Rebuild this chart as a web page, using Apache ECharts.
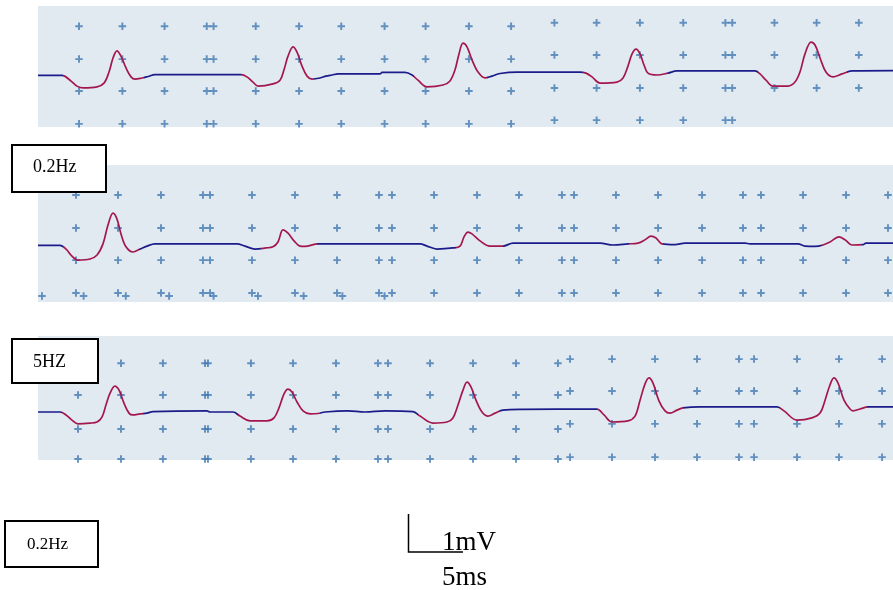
<!DOCTYPE html>
<html><head><meta charset="utf-8">
<script src="https://cdn.jsdelivr.net/npm/echarts@6/dist/echarts.min.js"></script>
<style>html,body{margin:0;padding:0;background:#fff}#c{width:893px;height:590px}</style>
</head><body><div id="c"></div>
<script>
// ---- waveform data: time (ms), voltage (mV) ----
const wave1T = [0,2.11,2.81,3.42,3.95,5.18,5.79,6.23,6.58,6.93,7.28,7.72,8.16,8.51,9.12,9.65,10.26,16.84,17.81,18.33,18.86,19.30,20.61,21.23,21.58,21.93,22.37,22.72,23.16,23.60,24.04,24.74,25.26,25.79,26.32,30.0,30.18,32.19,32.81,33.33,34.12,35.53,36.14,36.58,36.93,37.28,37.63,38.07,38.60,39.21,39.82,40.53,42.02,47.54,48.07,48.60,49.30,50.79,51.32,51.75,52.11,52.46,52.81,53.16,53.51,54.30,55.26,56.05,62.89,63.33,63.86,64.47,65.79,66.40,66.84,67.28,67.81,68.16,68.60,69.12,69.74,70.53,71.40,75.0];
const wave1V = [-0.01,-0.01,-0.14,-0.30,-0.35,-0.32,-0.22,0.08,0.46,0.65,0.51,0.19,-0.05,-0.11,-0.08,-0.04,0.01,0.01,0.01,-0.05,-0.19,-0.30,-0.24,-0.14,0.14,0.51,0.76,0.62,0.24,-0.03,-0.11,-0.08,-0.03,0.00,0.03,0.03,0.07,0.07,0.00,-0.14,-0.32,-0.27,-0.16,0.14,0.57,0.86,0.76,0.41,0.08,-0.08,-0.03,0.04,0.08,0.08,0.05,-0.05,-0.22,-0.19,-0.08,0.24,0.57,0.70,0.57,0.27,0.05,0.00,0.05,0.11,0.11,0.03,-0.14,-0.30,-0.30,-0.19,0.08,0.57,0.89,0.81,0.46,0.08,-0.05,0.03,0.11,0.12];

const wave2T = [0,1.93,2.46,2.98,3.51,4.56,5.18,5.70,6.14,6.58,6.93,7.28,7.72,8.33,8.95,9.56,10.26,17.46,18.16,19.04,20.00,20.61,21.05,21.49,21.93,22.46,22.98,23.42,24.56,33.51,34.12,35.00,36.40,37.02,37.37,37.72,38.07,38.77,39.65,40.79,41.67,49.30,50.44,51.75,52.63,53.25,53.77,54.21,54.74,55.88,56.75,62.02,62.46,66.67,67.28,68.16,68.86,69.47,70.26,70.79,71.40,72.37,72.63,75.0];
const wave2V = [-0.01,-0.01,-0.11,-0.30,-0.41,-0.38,-0.27,0.03,0.54,0.86,0.70,0.30,-0.05,-0.19,-0.11,-0.03,0.03,0.03,-0.03,-0.11,-0.08,-0.05,0.08,0.41,0.32,0.11,-0.03,-0.04,0.03,0.03,-0.03,-0.11,-0.08,-0.03,0.22,0.35,0.30,0.11,-0.03,-0.03,0.05,0.05,0.00,0.03,0.05,0.14,0.24,0.19,0.03,0.01,0.05,0.05,0.03,0.03,-0.03,-0.04,0.00,0.08,0.22,0.14,0.00,0.01,0.05,0.05];

const wave3T = [0,1.93,2.46,2.98,3.51,4.56,5.18,5.61,5.96,6.32,6.75,7.11,7.54,7.98,8.33,8.95,9.56,10.09,14.82,15.09,17.11,17.72,18.60,20.09,20.70,21.14,21.58,21.93,22.28,22.72,23.25,23.86,24.56,25.18,27.19,28.68,30.44,32.89,33.51,34.65,35.88,36.40,36.84,37.28,37.63,37.98,38.42,38.95,39.47,40.09,40.79,42.54,48.42,49.04,49.65,50.35,51.75,52.37,52.81,53.25,53.60,53.95,54.47,55.00,55.44,56.05,56.58,58.07,64.82,65.44,66.58,67.89,68.60,69.04,69.47,69.82,70.18,70.70,71.23,71.49,72.11,72.81,75.0];
const wave3V = [0,0,-0.08,-0.22,-0.32,-0.30,-0.27,-0.14,0.19,0.51,0.70,0.59,0.24,-0.03,-0.08,-0.05,-0.03,0.01,0.03,0,0,-0.11,-0.24,-0.24,-0.16,0.11,0.49,0.62,0.54,0.27,0.03,-0.05,-0.04,0,0.03,0,0.03,0.01,-0.11,-0.30,-0.27,-0.16,0.19,0.59,0.81,0.68,0.32,0.0,-0.11,-0.03,0.05,0.07,0.08,0.08,-0.08,-0.27,-0.24,-0.11,0.32,0.76,0.92,0.78,0.30,0.03,-0.03,0.05,0.11,0.14,0.14,0.03,-0.22,-0.16,-0.03,0.32,0.73,0.92,0.78,0.32,0.08,0.03,0.08,0.14,0.14];

// highlighted (complex) time windows, ms
const p1Red = [[2.2,9.3],[17.8,24.2],[33.0,39.4],[47.8,55.3],[63.2,71.0]];
const p2Red = [[2.2,8.9],[19.6,24.5],[36.7,40.8],[51.8,54.8],[68.8,72.3]];
const p3Red = [[2.1,9.2],[17.5,24.7],[33.3,40.5],[49.0,56.6],[65.1,72.7]];

// reference "+" markers (ms / mV)
const p1ColsL = [3.6,7.4,11.1,14.8,15.4,19.1,22.9,26.6,30.4,34.0,37.8,41.5];
const p1RowsL = [1.32,0.43,-0.43,-1.32];
const p1ColsR = [45.3,49.0,52.8,56.6,60.3,60.9,64.6,68.3,72.0];
const p1RowsR = [1.41,0.54,-0.35];
const p1BottomColsR = [45.3,49.0,52.8,56.6,60.3,60.9];
const p1BottomRowR = [-1.22];

const p2Cols = [3.33,7.02,10.79,14.47,15.09,18.77,22.54,26.23,29.91,31.05,34.74,38.51,42.19,45.96,47.02,50.70,54.39,58.25,61.84,63.42,67.11,70.88,74.56];
const p2Rows = [1.35,0.46,-0.41,-1.30];
const p2ExtraCols = [0.35,4.0,7.7,11.5,15.4,19.3,23.3,26.7,30.4];
const p2ExtraRow = [-1.38];

const p3ColsL = [3.51,7.28,10.96,14.65,14.91,18.68,22.37,26.14,29.82,30.70,34.39,38.16,41.93,45.61];
const p3RowsL = [1.32,0.46,-0.46,-1.27];
const p3ColsR = [46.67,50.35,54.12,57.81,61.49,62.81,66.58,70.26,74.04];
const p3RowsR = [1.43,0.57,-0.32,-1.22];

const boxLabels = ['0.2Hz','5HZ','0.2Hz'];
const scaleLabels = ['1mV','5ms'];

// ---- build ----
function zip(a,b){ return a.map((t,i)=>[t,b[i]]); }
function lattice(cols, rows){ const o=[]; cols.forEach(x=>rows.forEach(y=>o.push([x,y]))); return o; }

const panels = [
  {top:6, height:121, yMin:-1.405, yMax:1.865, data:zip(wave1T,wave1V), red:p1Red,
   marks: lattice(p1ColsL,p1RowsL).concat(lattice(p1ColsR,p1RowsR), lattice(p1BottomColsR,p1BottomRowR))},
  {top:165, height:137, yMin:-1.541, yMax:2.162, data:zip(wave2T,wave2V), red:p2Red,
   marks: lattice(p2Cols,p2Rows).concat(lattice(p2ExtraCols,p2ExtraRow))},
  {top:336, height:124, yMin:-1.297, yMax:2.054, data:zip(wave3T,wave3V), red:p3Red,
   marks: lattice(p3ColsL,p3RowsL).concat(lattice(p3ColsR,p3RowsR))}
];

const NAVY = '#1b1b8a', RED = '#a3174d', MARK = '#4279b3', BG = '#e1e9f1';
const plus = 'path://M2.6,0h1.8v2.6h2.6v1.8h-2.6v2.6h-1.8v-2.6h-2.6v-1.8h2.6z';

const series = [];
panels.forEach((p,i)=>{
  series.push({type:'line', xAxisIndex:i, yAxisIndex:i, data:p.data, symbol:'none',
    smooth:0.35, lineStyle:{width:1.7}, z:3, silent:true});
  series.push({type:'scatter', xAxisIndex:i, yAxisIndex:i, data:p.marks, symbol:plus,
    symbolSize:7.5, itemStyle:{color:MARK}, z:2, silent:true});
});

const font = (s)=> s+'px "Liberation Serif", "Times New Roman", serif';
function txt(x,y,t,size){ return {type:'text', x:x, y:y, z:101,
  style:{text:t, font:font(size), fill:'#000', textAlign:'left', textVerticalAlign:'middle', align:'left', verticalAlign:'middle'}}; }
function box(x,y,w,h){ return {type:'rect', z:100, shape:{x:x,y:y,width:w,height:h},
  style:{fill:'#fff', stroke:'#000', lineWidth:2}}; }

const option = {
  animation:false,
  backgroundColor:'#fff',
  grid: panels.map(p=>({left:38, top:p.top, width:855, height:p.height, show:true,
    backgroundColor:BG, borderWidth:0})),
  xAxis: panels.map((p,i)=>({type:'value', gridIndex:i, min:0, max:75, show:false})),
  yAxis: panels.map((p,i)=>({type:'value', gridIndex:i, min:p.yMin, max:p.yMax, show:false})),
  visualMap: panels.map((p,i)=>({type:'piecewise', show:false, dimension:0, seriesIndex:2*i,
    pieces: p.red.map(r=>({gte:r[0], lte:r[1], color:RED})), outOfRange:{color:NAVY}})),
  series: series,
  graphic: [
    box(12,145,94,47), txt(33,167,boxLabels[0],18),
    box(12,339,86,44), txt(33,362,boxLabels[1],18),
    box(5,521,93,46), txt(27,545,boxLabels[2],17),
    {type:'polyline', z:100, shape:{points:[[408.5,514],[408.5,552],[463,552]]},
      style:{stroke:'#000', lineWidth:1.5, fill:null}},
    txt(442,543,scaleLabels[0],27),
    txt(442,578,scaleLabels[1],27)
  ]
};
const chart = echarts.init(document.getElementById('c'));
chart.setOption(option);
</script></body></html>
